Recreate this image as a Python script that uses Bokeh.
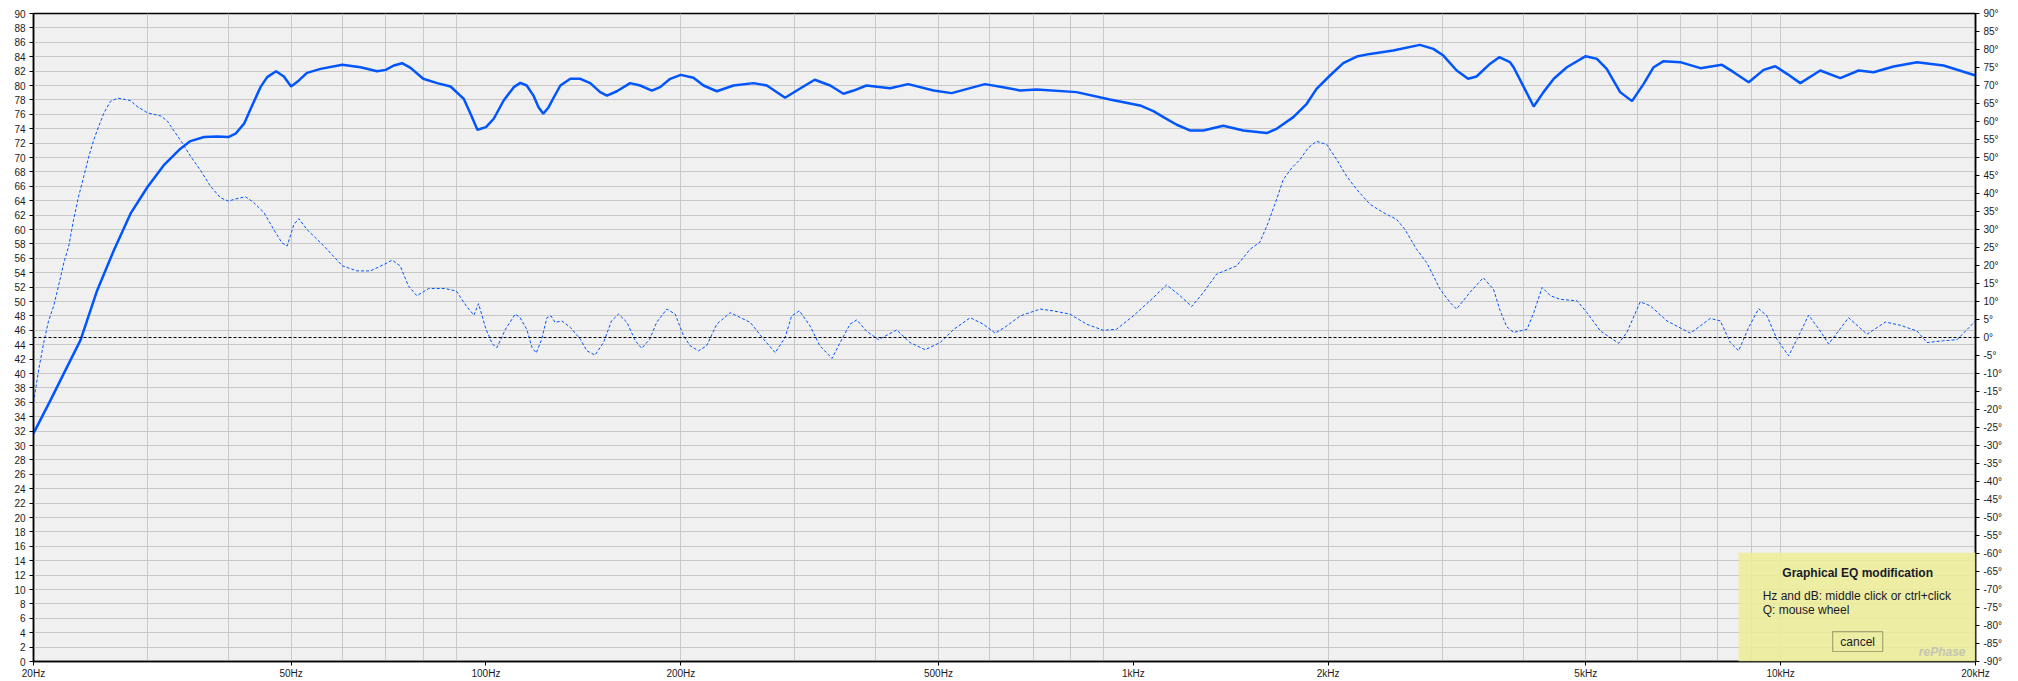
from bokeh.plotting import figure
from bokeh.models import (Range1d, LinearAxis, FixedTicker, Span, BoxAnnotation, Label)
from bokeh.embed import file_html
from bokeh.resources import INLINE

# ---- data -------------------------------------------------------------
db_freq = [20, 21.25, 22.28, 23.64, 25.09, 26.62, 28.24, 30, 31.77, 33.73, 34.95, 36.7, 38.43,
           40, 41.03, 42.3, 43.53, 44.84, 45.92, 47.4, 48.73, 50, 51.41, 52.9, 55.52, 60, 64.0,
           67.9, 70, 72.06, 74.2, 76.47, 80, 84.07, 88.16, 92.4, 94.65, 97.0, 100, 102.8, 106.5,
           110.4, 113.0, 115.6, 118.4, 120.5, 122.6, 124.8, 127.2, 130.3, 135, 139.9, 144.9,
           150.1, 153.8, 159.3, 167, 173.1, 180.4, 185.8, 192.6, 200, 209.2, 216.8, 227.3, 241.2,
           259, 271.6, 289.8, 302.1, 322, 340.2, 356.6, 369.8, 387, 421, 449, 491.5, 524, 590,
           629.3, 668.6, 709, 817, 920, 1024, 1074, 1113, 1167, 1223, 1283, 1377, 1479, 1607,
           1665, 1767, 1853, 1919, 2013, 2110, 2214, 2321, 2520, 2771, 2907, 3013, 3159, 3290,
           3390, 3555, 3675, 3818, 3868, 4011, 4155, 4302, 4462, 4675, 5000, 5202, 5387, 5650,
           5894, 6143, 6365, 6594, 6999, 7516, 8116, 8460, 8925, 9413, 9812, 10228, 10724,
           11514, 12363, 13198, 13920, 14945, 16243, 17849, 20000]
db_vals = [31.69, 36.31, 40.01, 44.63, 51.57, 57.12, 62.2, 65.9, 68.9, 71.22, 72.28, 72.84,
           72.93, 72.84, 73.3, 74.7, 77.23, 79.77, 81.16, 81.99, 81.25, 79.86, 80.7, 81.76, 82.31,
           82.87, 82.54, 81.99, 82.17, 82.78, 83.1, 82.45, 80.93, 80.33, 79.86, 78.15, 76.07,
           73.85, 74.22, 75.38, 77.92, 79.77, 80.37, 80.0, 78.6, 77.0, 76.07, 76.9, 78.3, 80.0,
           80.93, 80.93, 80.33, 79.08, 78.6, 79.2, 80.33, 80.0, 79.3, 79.77, 80.93, 81.48, 81.07,
           80.0, 79.2, 80.0, 80.33, 80.0, 78.3, 79.3, 80.8, 80.0, 78.85, 79.3, 80.0, 79.63, 80.19,
           79.3, 78.94, 80.19, 79.77, 79.31, 79.45, 79.08, 78.06, 77.23, 76.44, 75.61, 74.55,
           73.76, 73.76, 74.41, 73.76, 73.39, 73.99, 75.61, 77.46, 79.54, 81.39, 83.10, 84.02,
           84.39, 84.86, 85.64, 85.09, 84.16, 82.08, 80.93, 81.25, 83.0, 83.93, 83.24, 82.54,
           79.77, 77.09, 79.08, 80.93, 82.54, 84.07, 83.7, 82.31, 79.08, 77.83, 80.23, 82.54,
           83.38, 83.24, 82.41, 82.87, 81.85, 80.46, 82.17, 82.68, 81.62, 80.33, 82.08, 81.02,
           82.08, 81.85, 82.64, 83.24, 82.78, 81.39]

ph_freq = [20, 20.38, 20.74, 21.10, 21.49, 21.86, 22.28, 22.67, 23.07, 23.49, 23.92, 24.36,
           24.79, 25.23, 25.7, 26.3, 27.0, 27.74, 28.24, 28.9, 30, 31.5, 32.2, 32.99, 33.94,
           34.95, 36.3, 37.5, 38.9, 40, 41.1, 42.5, 43.7, 45.4, 47.0, 48.4, 49.3, 50.5, 51.4,
           52.9, 56.2, 60, 63.2, 66.3, 69.6, 71.6, 73.7, 75.9, 78.2, 81.6, 86.5, 90, 93.2, 95.8,
           97.4, 100, 102.3, 104, 107.2, 111, 112.9, 115.6, 117.8, 119.6, 121.9, 124.2, 126,
           127.9, 131, 135, 139.9, 143.2, 147.4, 151.9, 156.3, 160.2, 165.1, 170.1, 174, 179.0,
           183.5, 190.3, 196, 201.9, 206.7, 213, 219.2, 227.3, 238.4, 256, 268.5, 279.8, 289.8,
           296.6, 305, 316.7, 327.9, 342.4, 354.6, 365.1, 374, 387, 404, 431, 452, 477, 503,
           528.4, 560, 586.3, 612, 637.5, 669, 718, 752, 798, 847, 899, 942, 1000, 1061, 1126,
           1181, 1231, 1283, 1345, 1444, 1515, 1569, 1616, 1665, 1705, 1757, 1809, 1863, 1919,
           1990, 2062, 2136, 2214, 2321, 2433, 2552, 2628, 2739, 2840, 2978, 3086, 3157, 3311,
           3472, 3601, 3688, 3775, 3868, 4058, 4155, 4282, 4410, 4568, 4847, 5022, 5268, 5620,
           5787, 6069, 6290, 6675, 7255, 7787, 8069, 8361, 8612, 8925, 9248, 9526, 9871, 10289,
           10598, 11047, 11514, 11860, 12734, 13596, 14514, 15305, 16243, 16834, 17849, 18735,
           20000]
ph_vals = [-18.0, -8.8, -1.4, 4.6, 8.8, 14.3, 20.8, 25.4, 32.8, 39.3, 44.8, 50.4,
           55.0, 58.7, 62.4, 65.6, 66.5, 66.1, 65.8, 64.2, 62.4, 61.5, 60.1, 57.3, 54.1,
           50.4, 46.2, 42.1, 38.8, 37.9, 38.5, 39.1, 37.6, 34.7, 30.0, 26.3, 25.4, 31.4, 33.0,
           30.0, 25.4, 19.9, 18.5, 18.5, 20.3, 21.5, 19.9, 14.3, 11.6, 13.6, 13.6, 12.9, 8.8, 6.2,
           9.4, 2.3, -1.8, -2.8, 2.3, 6.5, 5.5, 2.3, -2.8, -4.3, -0.5, 5.5, 6.0,
           4.2, 4.6, 2.8, -0.5, -3.7, -4.9, -1.4, 4.6, 6.5, 4.2, -0.9, -3.0, -0.5,
           4.2, 7.9, 6.5, 0.5, -2.3, -3.7, -2.3, 3.7, 6.9, 4.2, -0.5, -4.2, 0.0,
           6.0, 7.4, 3.2, -2.3, -5.8, -0.5, 3.7, 4.9, 1.8, -0.6, 2.1, -1.4, -3.4, -1.4,
           2.3, 5.5, 3.7, 1.2, 3.2, 6.0, 7.9, 7.4, 6.5, 3.7, 2.0, 2.3, 6.0, 10.2, 14.6,
           11.6, 8.6, 12.5, 17.6, 19.9, 24.5, 26.5, 31.9, 38.4, 43.9, 47.1, 49.4, 52.7, 54.5,
           53.6, 49.4, 44.8, 41.1, 37.0, 34.7, 32.8, 30.0, 24.5, 20.8, 13.4, 9.7, 7.9, 12.5,
           16.6, 13.4, 7.4, 3.0, 1.4, 2.3, 6.9, 13.9, 11.6, 10.6, 10.2, 6.9, 1.8, -1.6,
           1.4, 9.9, 8.8, 4.6, 1.2, 5.3, 4.6, -1.4, -3.7, 2.8, 8.0, 6.0, -0.5, -5.1,
           -0.5, 6.2, 1.8, -1.8, 5.5, 0.9, 4.3, 3.4, 1.8, -1.4, -0.9, -0.6,
           4.6]

x_major_ticks = [20, 50, 100, 200, 500, 1000, 2000, 5000, 10000, 20000]
x_major_labels = ["20Hz", "50Hz", "100Hz", "200Hz", "500Hz", "1kHz", "2kHz", "5kHz",
                  "10kHz", "20kHz"]
x_grid_ticks = [m * d for d in (10, 100, 1000) for m in range(2, 10)] + [10000, 20000]
db_ticks = list(range(0, 91, 2))
phase_ticks = list(range(-90, 91, 5))
phase_labels = [f"{v}\u00b0" for v in phase_ticks]

FONT = "Liberation Sans"
LINE_BLUE = "#0055ff"

# ---- figure -----------------------------------------------------------
p = figure(width=2018, height=681, x_axis_type="log",
           x_range=Range1d(20, 20000), y_range=Range1d(0, 90),
           output_backend="svg", toolbar_location=None,
           min_border_left=33, min_border_right=43, min_border_top=13, min_border_bottom=19,
           background_fill_color="#f0f0f0", border_fill_color="white",
           outline_line_color="black", outline_line_width=1.5)

p.extra_y_ranges = {"phase": Range1d(-90, 90)}

# grids
p.xgrid.ticker = FixedTicker(ticks=x_grid_ticks)
p.ygrid.ticker = FixedTicker(ticks=db_ticks)
for g in (p.xgrid, p.ygrid):
    g.grid_line_color = "#c8c8c8"
    g.grid_line_width = 1
    g.minor_grid_line_color = None

# x axis
xa = p.xaxis[0]
xa.ticker = FixedTicker(ticks=x_major_ticks)
xa.major_label_overrides = dict(zip(x_major_ticks, x_major_labels))

# left axis
ya = p.yaxis[0]
ya.ticker = FixedTicker(ticks=db_ticks)

# right axis
ra = LinearAxis(y_range_name="phase", ticker=FixedTicker(ticks=phase_ticks),
                major_label_overrides=dict(zip(phase_ticks, phase_labels)))
p.add_layout(ra, "right")

for ax in (xa, ya, ra):
    ax.axis_line_color = "black"
    ax.axis_line_width = 1.5
    ax.major_tick_line_color = "black"
    ax.major_tick_out = 4
    ax.major_tick_in = 0
    ax.minor_tick_out = 0
    ax.minor_tick_in = 0
    ax.major_label_text_font = FONT
    ax.major_label_text_font_size = "10px"
    ax.major_label_text_color = "#1a1a1a"
xa.major_label_standoff = 2
ya.major_label_standoff = 4
ra.major_label_standoff = 4

# zero-phase reference
p.add_layout(Span(location=0, dimension="width", y_range_name="phase",
                  line_color="black", line_dash="3 2", line_width=1))

# curves
p.line(ph_freq, ph_vals, y_range_name="phase", line_color=LINE_BLUE,
       line_width=1, line_dash="3 2")
p.line(db_freq, db_vals, line_color=LINE_BLUE, line_width=2.5)

# EQ modification overlay
p.add_layout(BoxAnnotation(left=8610, right=20000, bottom=0, top=15.1,
                           fill_color="#ecec98", fill_alpha=0.88, line_color=None))
p.add_layout(Label(x=13152, y=12.34, text="Graphical EQ modification",
                   text_font=FONT, text_font_style="bold", text_font_size="12px",
                   text_align="center", text_baseline="middle", text_color="#1a1a2a"))
p.add_layout(Label(x=9380, y=9.15, text="Hz and dB: middle click or ctrl+click",
                   text_font=FONT, text_font_size="12px",
                   text_align="left", text_baseline="middle", text_color="#1a1a2a"))
p.add_layout(Label(x=9380, y=7.21, text="Q: mouse wheel",
                   text_font=FONT, text_font_size="12px",
                   text_align="left", text_baseline="middle", text_color="#1a1a2a"))
p.add_layout(BoxAnnotation(left=12032, right=14376, bottom=1.39, top=4.16,
                           fill_alpha=0, line_color="black", line_width=1.2))
p.add_layout(Label(x=13152, y=2.77, text="cancel",
                   text_font=FONT, text_font_size="12px",
                   text_align="center", text_baseline="middle", text_color="#1a1a2a"))
p.add_layout(Label(x=19300, y=1.3, text="rePhase",
                   text_font=FONT, text_font_size="12px", text_font_style="bold italic",
                   text_align="right", text_baseline="middle", text_color="#c4c4b4"))

open("out.html", "w").write(file_html(p, INLINE))
